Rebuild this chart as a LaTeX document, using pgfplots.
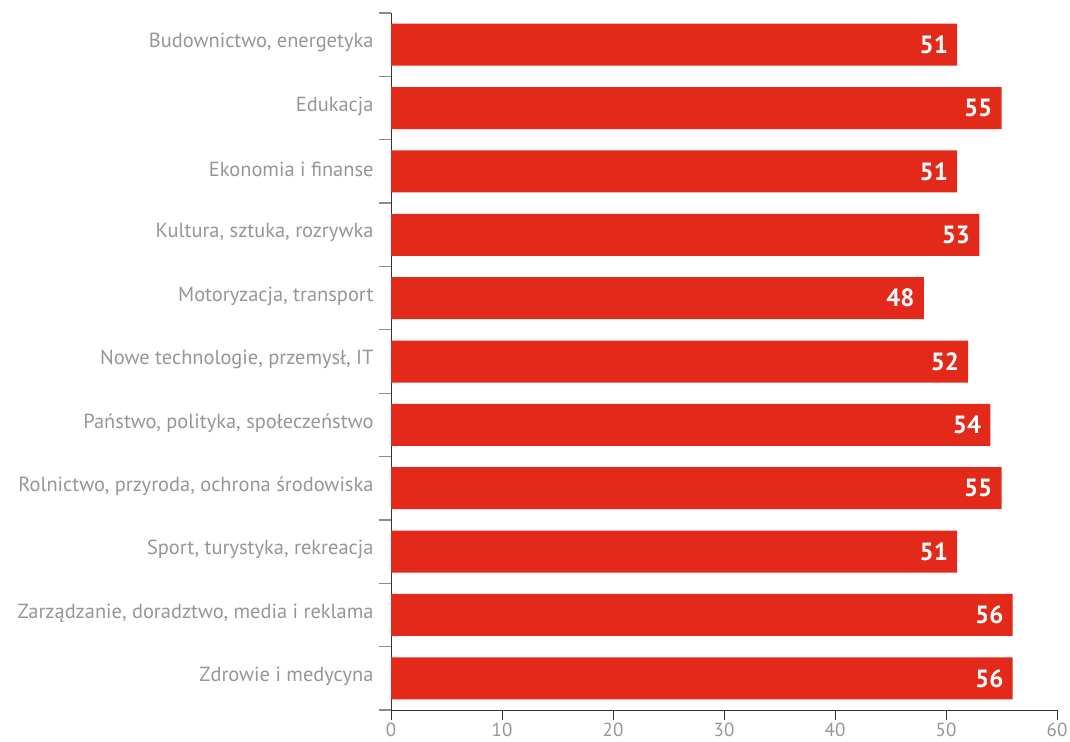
\documentclass[border=0pt]{standalone}
\usepackage{fontspec}
\setmainfont{PT Sans}
\usepackage{pgfplots}
\pgfplotsset{compat=1.18}
\definecolor{barred}{RGB}{227,41,26}
\definecolor{lblgray}{RGB}{150,150,150}
\definecolor{tickgray}{RGB}{140,140,140}
\definecolor{axdark}{RGB}{50,50,50}
\begin{document}
\begin{tikzpicture}
\useasboundingbox (0,0) rectangle (1070bp,742bp);
\begin{axis}[
  at={(391bp,32bp)}, anchor=south west,
  scale only axis, width=666bp, height=697bp,
  xbar, bar width=42bp,
  xmin=0, xmax=60,
  ymin=-0.5, ymax=10.5, y dir=reverse,
  axis x line*=bottom, axis y line*=left,
  axis line style={axdark, line width=0.9bp},
  xtick={0,10,...,60},
  ytick={0,...,10},
  yticklabels={{Budownictwo, energetyka},Edukacja,Ekonomia i finanse,{Kultura, sztuka, rozrywka},{Motoryzacja, transport},{Nowe technologie, przemysł, IT},{Państwo, polityka, społeczeństwo},{Rolnictwo, przyroda, ochrona środowiska},{Sport, turystyka, rekreacja},{Zarządzanie, doradztwo, media i reklama},Zdrowie i medycyna},
  minor ytick={-0.5,0.5,...,10.5},
  major tick length=10bp,
  minor tick length=12bp,
  tick align=outside,
  xtick style={axdark, line width=0.8bp},
  ytick style={draw=none},
  minor y tick style={draw=tickgray, line width=1.2bp},
  /pgf/number format/assume math mode=true,
  xticklabel style={font=\fontsize{19}{19}\selectfont, text=lblgray, yshift=1bp},
  yticklabel style={font=\fontsize{20.5}{20.5}\selectfont, text=lblgray, xshift=-4bp, yshift=2bp},
  nodes near coords,
  nodes near coords style={anchor=east, inner sep=0pt, xshift=-9bp, text=white, font=\bfseries\fontsize{25}{25}\selectfont},
  clip=false,
]
\addplot[fill=barred, draw=none] coordinates {
(51,0) (55,1) (51,2) (53,3) (48,4) (52,5) (54,6) (55,7) (51,8) (56,9) (56,10)
};
\end{axis}
\end{tikzpicture}
\end{document}
